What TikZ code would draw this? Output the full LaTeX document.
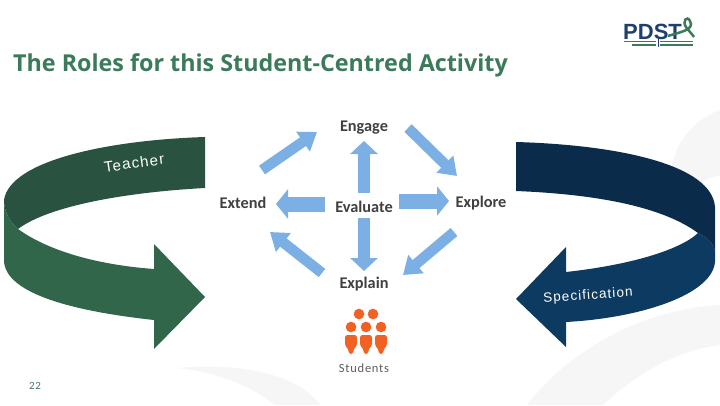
\documentclass[tikz,border=0pt]{standalone}
\usepackage{fontspec}
\setmainfont{Open Sans}
\newfontfamily\lblfont{Carlito}
\newfontfamily\sidefont[LetterSpace=8]{Liberation Sans}
\newfontfamily\logofont{Liberation Sans}
\newfontfamily\stufont[LetterSpace=6]{Carlito}
\usetikzlibrary{arrows.meta}
\definecolor{wm}{HTML}{F6F6F6}
\definecolor{gdark}{HTML}{2A5240}
\definecolor{glight}{HTML}{32664B}
\definecolor{bdark}{HTML}{0A2C4A}
\definecolor{blight}{HTML}{0C3A60}
\definecolor{ablue}{HTML}{7CB0E4}
\definecolor{ttl}{HTML}{3B7A5A}
\definecolor{lbl}{HTML}{404040}
\definecolor{orng}{HTML}{F26022}
\definecolor{pnavy}{HTML}{1F3F6E}
\tikzset{
 cyc/.style={ablue,line width=10.5pt,-{Triangle[length=17pt,width=23pt]}},
 vert/.style={ablue,line width=12.5pt,-{Triangle[length=13pt,width=27pt]}},
 horz/.style={ablue,line width=15pt,-{Triangle[length=12pt,width=29pt]}},
 lab/.style={font=\lblfont\bfseries\fontsize{16.3}{18}\selectfont,text=lbl,inner sep=0pt},
 side/.style={font=\sidefont\fontsize{13.5}{16}\selectfont,text=white,inner sep=0pt},
}
\newcommand{\person}[2]{%
 \fill[orng] (#1,#2) circle (5.3);
 \fill[orng,rounded corners=2.5pt] (#1-6,#2+8) -- (#1+6,#2+8) -- (#1+6,#2+19) -- (#1+3,#2+21) -- (#1+2,#2+27) -- (#1-2,#2+27) -- (#1-3,#2+21) -- (#1-6,#2+19) -- cycle;}
\begin{document}
\begin{tikzpicture}[x=1pt,y=-1pt]
\useasboundingbox (0,0) rectangle (720,405);
\fill[white] (0,0) rectangle (720,405);
% faint watermark
\fill[wm] (178,368) .. controls (240,362) and (300,375) .. (320,405) -- (275,405) .. controls (250,385) and (215,372) .. (178,368) -- cycle;
\fill[wm] (720,110) .. controls (680,125) and (662,165) .. (672,215) .. controls (685,190) and (700,180) .. (720,175) -- cycle;
\fill[wm] (720,305) .. controls (640,310) and (570,350) .. (527,405) -- (603,405) .. controls (640,370) and (680,350) .. (720,345) -- cycle;
% title
\node[anchor=west,inner sep=0pt,text=ttl,font=\fontsize{23.3}{28}\selectfont\bfseries] (title) at (13,65) {The Roles for this Student-Centred Activity};
% logo
\node[inner sep=0pt,text=pnavy,font=\logofont\fontsize{22}{22}\selectfont\bfseries,anchor=west] (pdst) at (623,31.5) {PDST};
\draw[ttl,line width=2.5pt] (668,36) .. controls (680,32) and (695,30) .. (690,21) .. controls (687,15) and (682,21) .. (686,27) .. controls (689,31) and (692,34) .. (694,37);
\draw[ttl,line width=1.5pt] (624,41.5) -- (656,41.5) (660,41.5) -- (693,41.5);
\draw[pnavy,line width=1pt] (658,39) -- (658,47);
\draw[ttl,line width=1.5pt] (632,45) -- (656,45) (660,45) -- (693,45);
% left ribbon
\fill[gdark] (205,137) .. controls (110,140) and (10,160) .. (4,200) .. controls (4,212) and (10,222) .. (18,229) .. controls (50,205) and (130,192) .. (205,188) -- cycle;
\fill[glight] (4,200) .. controls (4,212) and (10,222) .. (18,229) .. controls (50,252) and (100,265) .. (154,269) -- (154,244) -- (205,297) -- (154,349) -- (154,320) .. controls (80,312) and (4,295) .. (4,260) -- cycle;
% right ribbon
\fill[bdark] (516,142) .. controls (620,145) and (712,165) .. (715,207) -- (715,250) .. controls (712,242) and (705,236) .. (698,233) .. controls (660,205) and (590,194) .. (516,191) -- cycle;
\fill[blight] (698,233) .. controls (705,236) and (712,242) .. (715,250) -- (715,262) .. controls (712,295) and (640,318) .. (566,322) -- (566,347) -- (516,299) -- (566,247) -- (566,272) .. controls (630,265) and (680,250) .. (698,233) -- cycle;
% side labels
\node[side,rotate=8,font=\sidefont\fontsize{15}{16}\selectfont] (teacher) at (134,163) {Teacher};
\node[side,rotate=4] (spec) at (588,296) {Specification};
% cycle labels
\node[lab] (engage) at (364,128) {Engage};
\node[lab] (evaluate) at (364,207) {Evaluate};
\node[lab] (explore) at (481,203) {Explore};
\node[lab] (extend) at (243,203) {Extend};
\node[lab] (explain) at (364,284.5) {Explain};
\coordinate (a1) at (262,170); \coordinate (a2) at (317,132);
\coordinate (b1) at (408,128); \coordinate (b2) at (457,176);
\coordinate (c1) at (454,232); \coordinate (c2) at (403,275);
\coordinate (d1) at (322,273); \coordinate (d2) at (270,232);
\coordinate (e1) at (325,204); \coordinate (e2) at (276,204);
\coordinate (f1) at (399,201); \coordinate (f2) at (449,201);
\coordinate (g1) at (364,193); \coordinate (g2) at (364,141);
\coordinate (h1) at (364,218); \coordinate (h2) at (364,271);
\draw[cyc] (a1) -- (a2);
\draw[cyc] (b1) -- (b2);
\draw[cyc] (c1) -- (c2);
\draw[cyc] (d1) -- (d2);
\draw[horz] (e1) -- (e2);
\draw[horz] (f1) -- (f2);
\draw[vert] (g1) -- (g2);
\draw[vert] (h1) -- (h2);
% students
\fill[orng] (359,314) circle (5.3) (373,314) circle (5.3);
\person{351}{327}
\person{366}{327}
\person{381}{327}
\node[inner sep=0pt,text=lbl!85,font=\stufont\fontsize{12.5}{14}\selectfont] (students) at (364,368) {Students};
\node[inner sep=0pt,text=ttl!80!gray,font=\stufont\fontsize{11}{13}\selectfont] (pageno) at (35,386) {22};
\end{tikzpicture}
\end{document}
